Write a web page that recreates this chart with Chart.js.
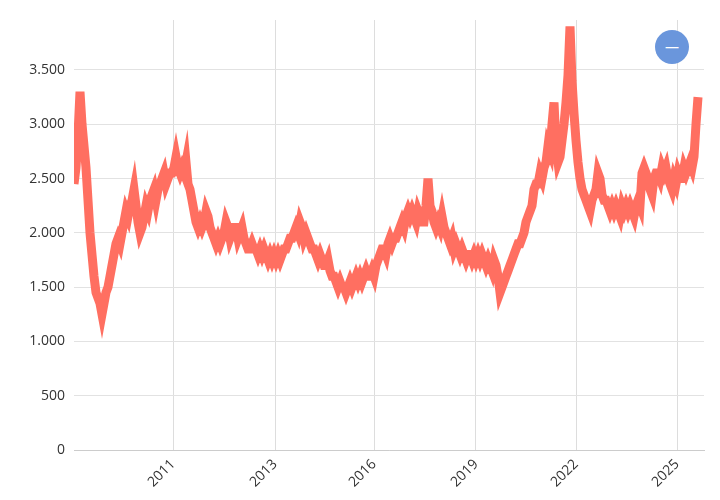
<!DOCTYPE html>
<html><head><meta charset="utf-8">
<script src="https://cdn.jsdelivr.net/npm/chart.js@4/dist/chart.umd.min.js"></script>
<style>body{margin:0;background:#fff}#w{position:relative;width:720px;height:500px}
#b{position:absolute;left:655px;top:30px;width:34px;height:34px;border-radius:50%;background:#6a96dc;color:#fff;font:14px 'Open Sans';text-align:center;line-height:33px}</style>
</head><body><div id="w"><canvas id="c" width="720" height="500"></canvas><div id="b">—</div></div>
<script>
const values=[2450,2600,2900,3300,3000,2800,2600,2300,2000,1800,1600,1450,1400,1350,1250,1350,1450,1500,1600,1700,1800,1900,1950,1900,2000,2100,2200,2150,2250,2300,2400,2250,2100,2000,2050,2150,2250,2200,2300,2350,2400,2300,2400,2450,2500,2550,2450,2500,2550,2550,2600,2700,2600,2550,2600,2550,2650,2450,2400,2300,2200,2100,2050,2100,2050,2100,2200,2150,2050,2000,1950,1900,1950,1900,1950,2000,2100,2050,1950,2000,2050,2050,1950,2000,2050,1950,1900,1850,1850,1900,1850,1850,1800,1850,1800,1850,1800,1750,1800,1750,1800,1750,1800,1750,1800,1850,1850,1900,1950,1950,2000,2050,2000,2100,2050,1950,2000,1950,1900,1850,1850,1800,1750,1800,1750,1700,1700,1750,1650,1600,1600,1550,1500,1550,1500,1500,1450,1500,1550,1500,1550,1600,1550,1600,1550,1600,1650,1600,1600,1650,1600,1700,1750,1800,1850,1850,1800,1900,1950,1900,1950,1950,2000,2050,2100,2050,2150,2200,2150,2200,2150,2100,2200,2150,2100,2100,2250,2500,2250,2200,2100,2050,2100,2050,2150,2050,2000,1950,1900,1950,1850,1900,1850,1800,1850,1800,1750,1800,1800,1750,1800,1750,1800,1750,1800,1750,1700,1750,1700,1650,1750,1700,1600,1450,1500,1550,1600,1650,1700,1750,1800,1850,1900,1900,1950,2000,2100,2150,2200,2250,2400,2450,2450,2550,2500,2600,2650,2800,2750,3000,3200,2800,2650,2700,2850,3000,3200,3450,3900,3400,3100,2850,2650,2500,2400,2350,2300,2250,2200,2300,2350,2400,2550,2500,2350,2300,2300,2250,2200,2250,2200,2250,2200,2150,2250,2200,2250,2200,2250,2200,2150,2250,2300,2250,2550,2600,2550,2500,2400,2350,2500,2550,2550,2500,2600,2550,2600,2500,2450,2400,2500,2450,2550,2500,2500,2600,2550,2600,2650,2600,2700,3000,3250];
const tickPos=[49.5,100.5,150,201,251,301.5];
const tickLabels=['2011','2013','2016','2019','2022','2025'];
const yTicks=[0,500,1000,1500,2000,2500,3000,3500];
const pts=values.map((v,i)=>({x:i,y:v}));
new Chart(document.getElementById('c'),{type:'line',
data:{datasets:[{data:pts,borderColor:'#ff6f61',borderWidth:9,pointRadius:0,tension:0,borderJoinStyle:'miter'}]},
options:{responsive:false,animation:false,layout:{padding:{top:20,right:16}},
plugins:{legend:{display:false},tooltip:{enabled:false}},
scales:{
x:{type:'linear',min:0,max:315,afterFit:a=>{a.height=50},
afterBuildTicks:a=>{a.ticks=tickPos.map(v=>({value:v}))},
grid:{color:'#ddd',drawTicks:false},border:{color:'#ccc'},
ticks:{autoSkip:false,maxRotation:45,minRotation:45,padding:6,color:'#333',font:{family:'Open Sans',size:14},callback:(v,i)=>tickLabels[i]}},
y:{min:0,max:3960,afterFit:a=>{a.width=74},
afterBuildTicks:a=>{a.ticks=yTicks.map(v=>({value:v}))},
grid:{color:'#e2e2e2',drawTicks:false},border:{display:false},
ticks:{padding:9,color:'#333',font:{family:'Open Sans',size:14},callback:v=>v.toLocaleString('de-DE')}}}}});
</script></body></html>
